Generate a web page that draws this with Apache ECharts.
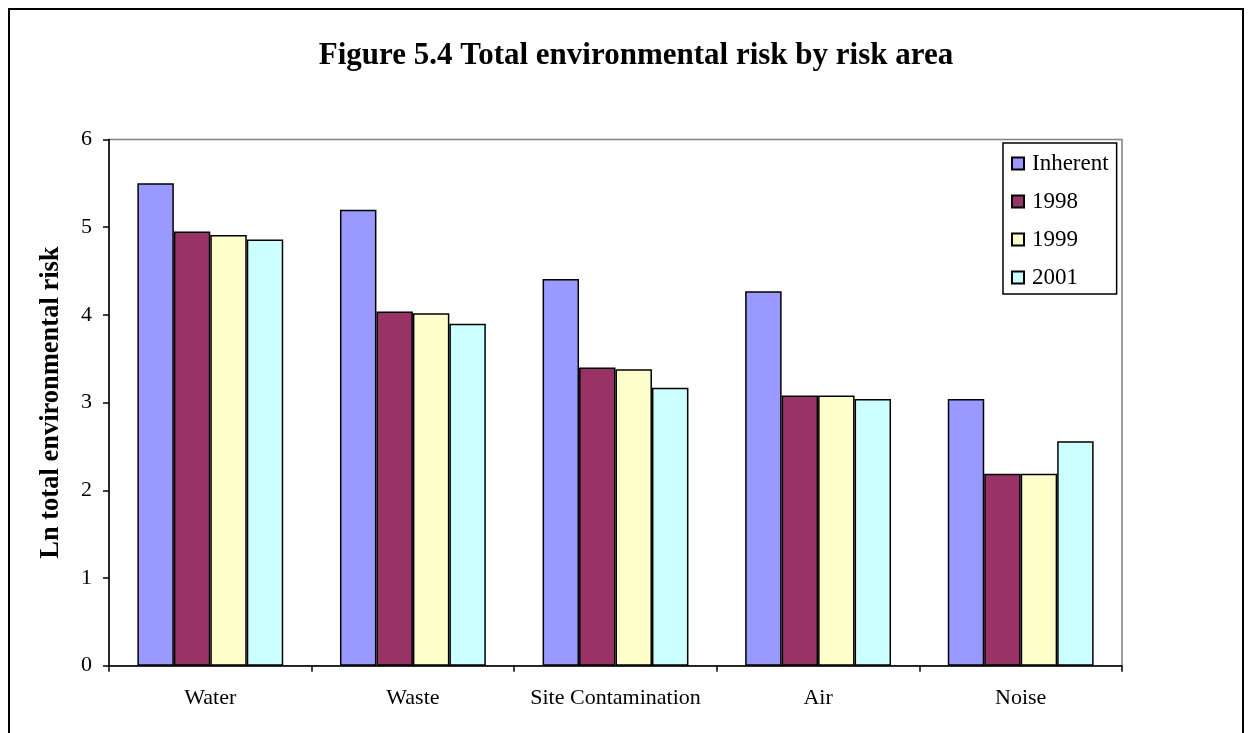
<!DOCTYPE html>
<html>
<head>
<meta charset="utf-8">
<script src="https://cdn.jsdelivr.net/npm/echarts@6/dist/echarts.min.js"></script>
<style>
  html, body { margin: 0; padding: 0; background: #fff; }
  #chart { width: 1252px; height: 733px; }
</style>
</head>
<body>
<div id="chart"></div>
<script>
// risk areas on the x axis
const categories = ['Water', 'Waste', 'Site Contamination', 'Air', 'Noise'];
const seriesNames = ['Inherent', '1998', '1999', '2001'];

// Ln total environmental risk
const inherent = [5.50, 5.20, 4.41, 4.27, 3.04];
const risk1998 = [4.95, 4.04, 3.40, 3.08, 2.19];
const risk1999 = [4.91, 4.02, 3.38, 3.08, 2.19];
const risk2001 = [4.86, 3.90, 3.17, 3.04, 2.56];

const yTicks = [0, 1, 2, 3, 4, 5, 6];

const colors = ['#9999FF', '#993366', '#FFFFCC', '#CCFFFF'];
const font = '"Liberation Serif", "Times New Roman", serif';

const chart = echarts.init(document.getElementById('chart'));

function bar(name, data, i) {
  return {
    name: name,
    type: 'bar',
    data: data,
    barGap: '0%',
    barCategoryGap: '28%',
    itemStyle: { color: colors[i], borderColor: '#000', borderWidth: 1.5 },
    emphasis: { disabled: true }
  };
}

const option = {
  animation: false,
  backgroundColor: '#fff',
  textStyle: { fontFamily: font },
  graphic: [{
    type: 'rect',
    z: -1,
    shape: { x: 9, y: 9, width: 1234, height: 740 },
    style: { fill: 'none', stroke: '#000', lineWidth: 2 }
  }],
  title: {
    text: 'Figure 5.4 Total environmental risk by risk area',
    left: 631,
    textAlign: 'center',
    top: 35,
    textStyle: { fontFamily: font, fontWeight: 'bold', fontSize: 31, color: '#000' }
  },
  legend: {
    data: seriesNames,
    orient: 'vertical',
    left: 1003,
    top: 143,
    padding: [9, 8, 5, 8],
    itemGap: 15,
    itemWidth: 12,
    itemHeight: 12,
    icon: 'rect',
    backgroundColor: '#fff',
    borderColor: '#000',
    borderWidth: 1.5,
    textStyle: { fontFamily: font, fontSize: 23, lineHeight: 22, color: '#000', padding: [0, 0, 0, 3] }
  },
  grid: {
    left: 109,
    right: 130,
    top: 139.5,
    bottom: 67.3,
    show: true,
    borderColor: '#808080',
    borderWidth: 1.5
  },
  xAxis: {
    type: 'category',
    data: categories,
    axisLine: { lineStyle: { color: '#000', width: 1.5 } },
    axisTick: { show: true, length: 6, inside: false, lineStyle: { color: '#000', width: 1.5 } },
    axisLabel: { color: '#000', fontFamily: font, fontSize: 22, margin: 22, interval: 0 },
    splitLine: { show: false }
  },
  yAxis: {
    type: 'value',
    min: yTicks[0],
    max: yTicks[yTicks.length - 1],
    interval: 1,
    name: 'Ln total environmental risk',
    nameLocation: 'middle',
    nameGap: 44,
    nameTextStyle: { color: '#000', fontFamily: font, fontWeight: 'bold', fontSize: 26.5 },
    axisLine: { show: true, lineStyle: { color: '#000', width: 1.5 } },
    axisTick: { show: true, length: 6, lineStyle: { color: '#000', width: 1.5 } },
    axisLabel: { color: '#000', fontFamily: font, fontSize: 22, margin: 17 },
    splitLine: { show: false }
  },
  series: [
    bar(seriesNames[0], inherent, 0),
    bar(seriesNames[1], risk1998, 1),
    bar(seriesNames[2], risk1999, 2),
    bar(seriesNames[3], risk2001, 3)
  ]
};

chart.setOption(option);
</script>
</body>
</html>
